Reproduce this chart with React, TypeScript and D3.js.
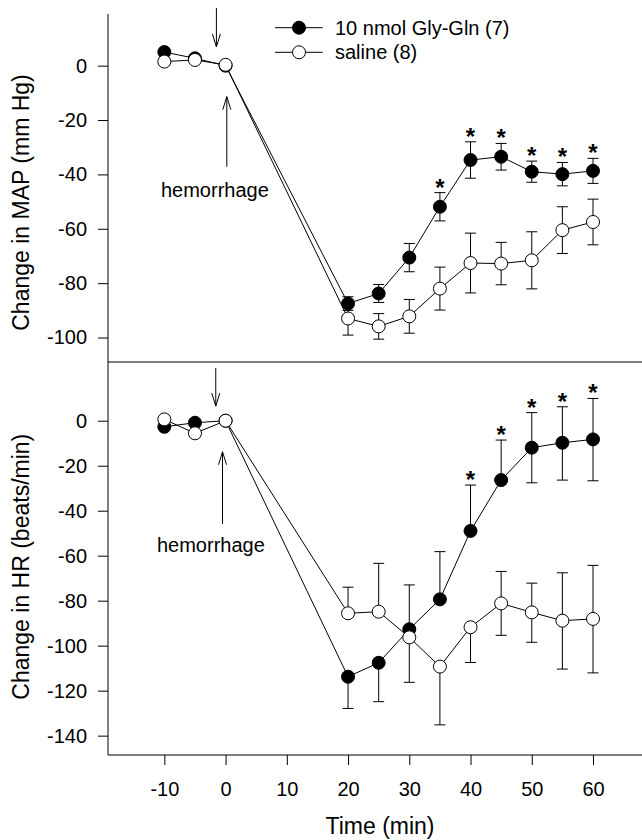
import React, { useEffect, useRef } from "react";
import * as d3 from "d3";

// time points (min)
const times = [-10, -5, 0, 20, 25, 30, 35, 40, 45, 50, 55, 60];

// MAP change (mm Hg), mean and SE
const mapGly = [5, 2.7, 0, -87.5, -83.8, -70.6, -51.9, -34.7, -33.5, -39, -39.9, -38.7];
const mapGlySe = [0, 0, 0, 2.5, 3.3, 5.2, 5.2, 6.7, 4.9, 3.9, 4.3, 4.6];
const mapSaline = [1.5, 2.1, 0.3, -93, -95.9, -92.2, -82, -72.6, -72.8, -71.6, -60.5, -57.5];
const mapSalineSe = [0, 0, 0, 6.1, 4.7, 6.2, 7.9, 11, 7.8, 10.5, 8.6, 8.4];
const mapStars = [35, 40, 45, 50, 55, 60];

// HR change (beats/min); error bars drawn one-sided where they are one-sided
const hrGly = [-2.7, -0.9, 0, -113.8, -107.6, -92.7, -79.4, -49, -26.4, -12, -9.8, -8.3];
const hrGlyUp = [0, 0, 0, 0, 0, 19.7, 21.2, 20.4, 17.8, 15.6, 16, 18.2];
const hrGlyDown = [0, 0, 0, 14.1, 17.3, 0, 0, 0, 0, 15.6, 16.6, 18.4];
const hrSaline = [0.6, -5.6, 0, -85.6, -84.9, -96.3, -109.3, -91.8, -81.2, -85.2, -88.9, -88.1];
const hrSalineUp = [0, 0, 0, 11.6, 21.5, 0, 0, 0, 14.2, 13, 21.3, 23.8];
const hrSalineDown = [0, 0, 0, 0, 0, 20, 25.9, 15.7, 14.2, 13.3, 21.5, 24];
const hrStars = [40, 45, 50, 55, 60];

const xTicks = [-10, 0, 10, 20, 30, 40, 50, 60];
const mapTicks = [-100, -80, -60, -40, -20, 0];
const hrTicks = [-140, -120, -100, -80, -60, -40, -20, 0];

const legendLabels = ["10 nmol Gly-Gln (7)", "saline (8)"];

const W = 642;
const H = 840;
const left = 108;
const right = 642;
const font = "'Liberation Sans', Arial, Helvetica, sans-serif";

export default function App() {
  const ref = useRef<SVGSVGElement>(null);

  useEffect(() => {
    const svg = d3.select(ref.current);
    svg.selectAll("*").remove();

    const x = d3.scaleLinear().domain([-19.2, 68]).range([left, right]);
    const yMap = d3.scaleLinear().domain([19, -109]).range([14, 362]);
    const yHr = d3.scaleLinear().domain([26.1, -148.6]).range([362, 755]);

    // frame lines
    svg.append("line").attr("x1", left).attr("x2", left).attr("y1", 14).attr("y2", 755)
      .attr("stroke", "#000");
    svg.append("line").attr("x1", left).attr("x2", right).attr("y1", 362).attr("y2", 362)
      .attr("stroke", "#000");
    svg.append("line").attr("x1", left).attr("x2", right).attr("y1", 755).attr("y2", 755)
      .attr("stroke", "#000");

    const styleAxis = (g: any) => {
      g.select(".domain").remove();
      g.selectAll("text").attr("font-size", 20).attr("font-family", font).attr("fill", "#000");
      g.selectAll("line").attr("stroke", "#000");
    };
    const plain = (d: any) => String(d); // hyphen minus, like the original

    svg.append("g").attr("transform", `translate(${left},0)`)
      .call(d3.axisLeft(yMap).tickValues(mapTicks).tickFormat(plain).tickSize(10).tickPadding(11))
      .call(styleAxis);
    svg.append("g").attr("transform", `translate(${left},0)`)
      .call(d3.axisLeft(yHr).tickValues(hrTicks).tickFormat(plain).tickSize(10).tickPadding(11))
      .call(styleAxis);
    svg.append("g").attr("transform", `translate(0,755)`)
      .call(d3.axisBottom(x).tickValues(xTicks).tickFormat(plain).tickSize(10).tickPadding(17))
      .call(styleAxis);

    // axis titles
    svg.append("text").attr("transform", "translate(28.5,202.5) rotate(-90)")
      .attr("text-anchor", "middle").attr("font-size", 23).attr("font-family", font)
      .text("Change in MAP (mm Hg)");
    svg.append("text").attr("transform", "translate(28.5,566.7) rotate(-90)")
      .attr("text-anchor", "middle").attr("font-size", 23).attr("font-family", font)
      .text("Change in HR (beats/min)");
    svg.append("text").attr("x", 380).attr("y", 834)
      .attr("text-anchor", "middle").attr("font-size", 23).attr("font-family", font)
      .text("Time (min)");

    const capW = 5.5;
    const r = 6.5;

    const drawPanel = (
      y: d3.ScaleLinear<number, number>,
      gly: number[], glyUp: number[], glyDown: number[],
      sal: number[], salUp: number[], salDown: number[],
      stars: number[]
    ) => {
      const g = svg.append("g");
      const bars = (vals: number[], up: number[], down: number[]) => {
        vals.forEach((v, i) => {
          const segs: number[] = [];
          if (up[i] > 0) segs.push(v + up[i]);
          if (down[i] > 0) segs.push(v - down[i]);
          segs.forEach((end) => {
            g.append("line").attr("x1", x(times[i])).attr("x2", x(times[i]))
              .attr("y1", y(v)).attr("y2", y(end)).attr("stroke", "#000");
            g.append("line").attr("x1", x(times[i]) - capW).attr("x2", x(times[i]) + capW)
              .attr("y1", y(end)).attr("y2", y(end)).attr("stroke", "#000");
          });
        });
      };
      bars(gly, glyUp, glyDown);
      bars(sal, salUp, salDown);

      const line = d3.line<number>().x((d, i) => x(times[i])).y((d) => y(d));
      g.append("path").attr("d", line(gly)).attr("fill", "none").attr("stroke", "#000");
      g.append("path").attr("d", line(sal)).attr("fill", "none").attr("stroke", "#000");

      g.selectAll(".gly").data(gly).join("circle")
        .attr("cx", (d, i) => x(times[i])).attr("cy", (d) => y(d)).attr("r", r)
        .attr("fill", "#000").attr("stroke", "#000");
      g.selectAll(".sal").data(sal).join("circle")
        .attr("cx", (d, i) => x(times[i])).attr("cy", (d) => y(d)).attr("r", r)
        .attr("fill", "#fff").attr("stroke", "#000");

      stars.forEach((t) => {
        const i = times.indexOf(t);
        g.append("text").attr("x", x(t)).attr("y", y(gly[i] + glyUp[i]) + 3)
          .attr("text-anchor", "middle").attr("font-size", 24).attr("font-weight", "bold")
          .attr("font-family", font)
          .text("*");
      });
    };

    drawPanel(yMap, mapGly, mapGlySe, mapGlySe, mapSaline, mapSalineSe, mapSalineSe, mapStars);
    drawPanel(yHr, hrGly, hrGlyUp, hrGlyDown, hrSaline, hrSalineUp, hrSalineDown, hrStars);

    // hemorrhage arrows
    const arrow = (xp: number, y1: number, y2: number) => {
      svg.append("line").attr("x1", xp).attr("x2", xp).attr("y1", y1).attr("y2", y2)
        .attr("stroke", "#000");
      const dir = y2 > y1 ? -1 : 1;
      svg.append("path")
        .attr("d", `M${xp - 4},${y2 + dir * 13}L${xp},${y2}L${xp + 4},${y2 + dir * 13}`)
        .attr("fill", "none").attr("stroke", "#000");
    };
    const hemo = (y: d3.ScaleLinear<number, number>, dx: number, dTop: number, dTip: number,
      ux: number, uTip: number, uTail: number, lx: number, ly: number) => {
      arrow(x(dx), y(dTop), y(dTip));
      arrow(x(ux), y(uTail), y(uTip));
      svg.append("text").attr("x", x(lx)).attr("y", y(ly))
        .attr("text-anchor", "middle").attr("font-size", 20).attr("font-family", font)
        .text("hemorrhage");
    };
    hemo(yMap, -1.5, 21.2, 6.9, 0.2, -11.4, -37.2, -1.75, -48.2);
    hemo(yHr, -1.6, 23.4, 6.5, -0.5, -13.8, -45.9, -2.4, -58.4);

    // legend
    const lg = svg.append("g");
    [27.7, 52.3].forEach((ly, i) => {
      lg.append("line").attr("x1", 275).attr("x2", 322.7).attr("y1", ly).attr("y2", ly)
        .attr("stroke", "#000");
      lg.append("circle").attr("cx", 299).attr("cy", ly).attr("r", r)
        .attr("fill", i === 0 ? "#000" : "#fff").attr("stroke", "#000");
      lg.append("text").attr("x", 335).attr("y", ly).attr("dy", "0.35em")
        .attr("font-size", 20).attr("font-family", font).text(legendLabels[i]);
    });
  }, []);

  return (
    <div>
      <svg ref={ref} width={W} height={H}
        style={{ position: "absolute", left: 0, top: 0, background: "#fff" }} />
    </div>
  );
}
